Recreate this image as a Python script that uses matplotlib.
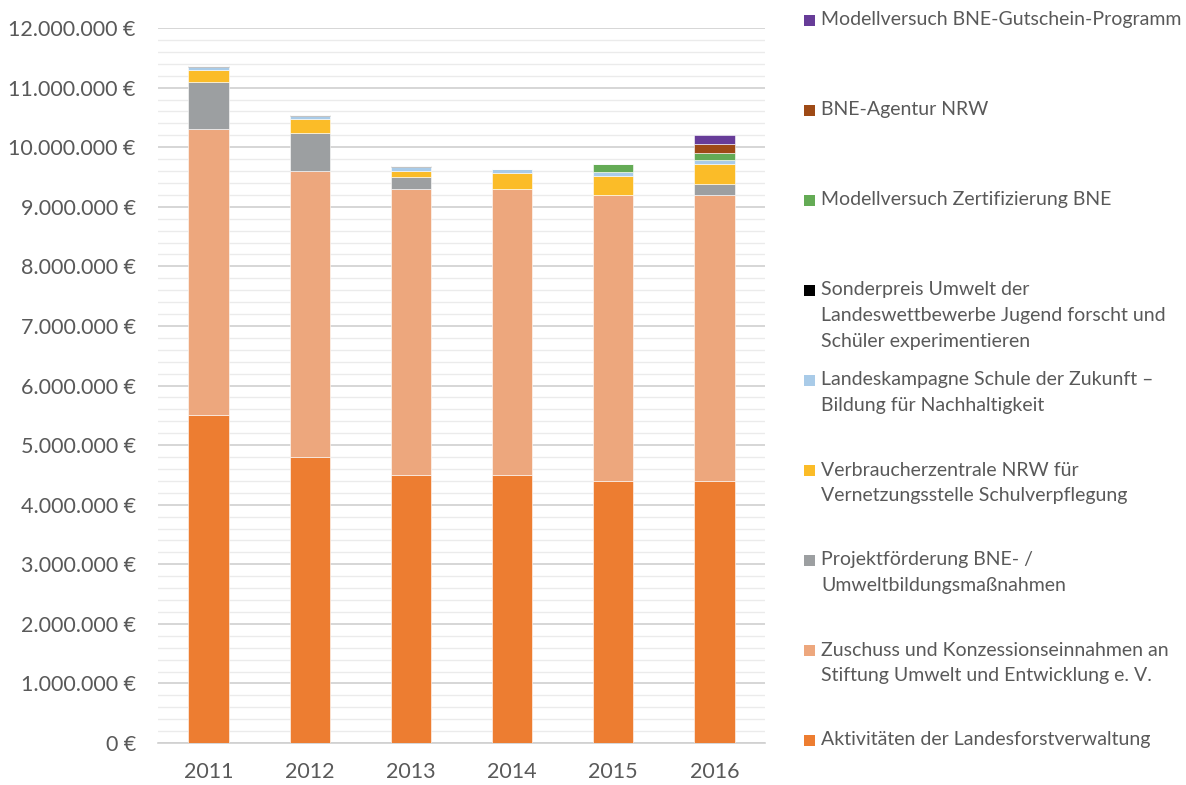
import matplotlib
matplotlib.use("Agg")
import matplotlib.pyplot as plt
import numpy as np
from matplotlib.patches import Rectangle
from matplotlib.ticker import MultipleLocator, FuncFormatter

years = ["2011", "2012", "2013", "2014", "2015", "2016"]

# series in stacking order (bottom to top)
aktivitaeten = [5.50e6, 4.80e6, 4.50e6, 4.50e6, 4.40e6, 4.40e6]
zuschuss = [4.80e6, 4.80e6, 4.80e6, 4.80e6, 4.80e6, 4.80e6]
projekt = [0.80e6, 0.64e6, 0.20e6, 0.0, 0.0, 0.19e6]
verbraucher = [0.19e6, 0.23e6, 0.10e6, 0.26e6, 0.31e6, 0.32e6]
landeskampagne = [0.06e6, 0.06e6, 0.07e6, 0.07e6, 0.08e6, 0.08e6]
sonderpreis = [0.01e6, 0.01e6, 0.01e6, 0.01e6, 0.0, 0.0]
zertifizierung = [0.0, 0.0, 0.0, 0.0, 0.12e6, 0.12e6]
agentur = [0.0, 0.0, 0.0, 0.0, 0.0, 0.15e6]
gutschein = [0.0, 0.0, 0.0, 0.0, 0.0, 0.15e6]

series = [
    ("Aktivitäten der Landesforstverwaltung", aktivitaeten, "#ED7D31"),
    ("Zuschuss und Konzessionseinnahmen an\nStiftung Umwelt und Entwicklung e. V.", zuschuss, "#EDA77D"),
    ("Projektförderung BNE- /\nUmweltbildungsmaßnahmen", projekt, "#9C9FA1"),
    ("Verbraucherzentrale NRW für\nVernetzungsstelle Schulverpflegung", verbraucher, "#FBBC28"),
    ("Landeskampagne Schule der Zukunft –\nBildung für Nachhaltigkeit", landeskampagne, "#A9CBE8"),
    ("Sonderpreis Umwelt der\nLandeswettbewerbe Jugend forscht und\nSchüler experimentieren", sonderpreis, "#000000"),
    ("Modellversuch Zertifizierung BNE", zertifizierung, "#64AB55"),
    ("BNE-Agentur NRW", agentur, "#9E4A16"),
    ("Modellversuch BNE-Gutschein-Programm", gutschein, "#673C98"),
]

W, H = 1186, 785
plt.rcParams['font.family'] = ['Lato', 'DejaVu Sans']
fig = plt.figure(figsize=(W / 100, H / 100), dpi=100)
ax = fig.add_axes([158 / W, 1 - 743 / H, (765 - 158) / W, (743 - 28) / H])

x = np.arange(len(years))
bottom = np.zeros(len(years))
for name, vals, col in series:
    v = np.array(vals)
    ax.bar(x, v, width=0.4, bottom=bottom, color=col, edgecolor="white", linewidth=0.4, zorder=3)
    bottom += v

ax.set_xlim(-0.5, len(years) - 0.5)
ax.set_ylim(0, 12e6)
ax.yaxis.set_major_locator(MultipleLocator(1e6))
ax.yaxis.set_minor_locator(MultipleLocator(2e5))
ax.grid(which="major", axis="y", color="#D0D0D0", linewidth=1.2, zorder=0)
ax.grid(which="minor", axis="y", color="#EBEBEB", linewidth=1.0, zorder=0)
ax.yaxis.set_major_formatter(FuncFormatter(lambda v, p: f"{int(round(v)):,}".replace(",", ".") + " €"))
ax.set_xticks(x)
ax.set_xticklabels(years)
for s in ["top", "right", "left"]:
    ax.spines[s].set_visible(False)
ax.spines["bottom"].set_color("#D0D0D0")
ax.spines["bottom"].set_linewidth(1.2)
ax.tick_params(axis="y", which="both", length=0, pad=16, labelsize=15.5, labelcolor="#595959")
ax.tick_params(axis="x", length=0, pad=14, labelsize=15.5, labelcolor="#595959")

# legend (top to bottom is reverse of stacking)
leg_items = list(reversed(series))
for i, (name, vals, col) in enumerate(leg_items):
    yc = 20 + 90 * i
    fig.patches.append(Rectangle((804 / W, 1 - (yc + 5.5) / H), 11 / W, 11 / H,
                                 transform=fig.transFigure, facecolor=col, edgecolor="none"))
    for j, line in enumerate(name.split("\n")):
        fig.text(821 / W, 1 - (yc + 25.5 * j) / H, line, fontsize=14, color="#595959",
                 ha="left", va="center")

fig.savefig("out.png", dpi=100, facecolor="white")
